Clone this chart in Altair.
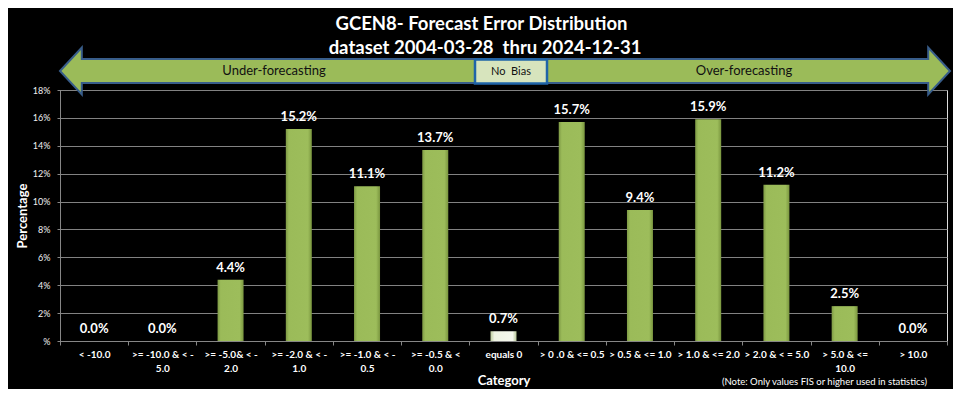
import altair as alt
import pandas as pd

categories = ["< -10.0", ">= -10.0 & < -\n5.0", ">= -5.0& < -\n2.0", ">= -2.0 & < -\n1.0",
              ">= -1.0 & < -\n0.5", ">= -0.5 & <\n0.0", "equals 0", "> 0 .0 & <= 0.5",
              "> 0.5 & <= 1.0", "> 1.0 & <= 2.0", "> 2.0 & < = 5.0", "> 5.0 & <=\n10.0", "> 10.0"]
values = [0.0, 0.0, 4.4, 15.2, 11.1, 13.7, 0.7, 15.7, 9.4, 15.9, 11.2, 2.5, 0.0]
y_ticks = [0, 2, 4, 6, 8, 10, 12, 14, 16, 18]

df = pd.DataFrame({"cat": categories, "value": values})

FONT = "Lato"
W, H = 887, 251

x_enc = alt.X("cat:N", sort=categories,
              scale=alt.Scale(paddingInner=0, paddingOuter=0),
              axis=alt.Axis(title="Category", labelExpr="split(datum.label, '\\n')",
                            labelAngle=0, labelFontWeight="bold", labelFontSize=10,
                            labelColor="#ffffff", labelPadding=4, labelLineHeight=14,
                            tickBand="extent", tickSize=4, tickColor="#868686",
                            domainColor="#868686", titleFontSize=13, titleFontWeight="bold",
                            titleColor="#ffffff", titleY=33, titleBaseline="top",
                            grid=False))
y_enc = alt.Y("value:Q", scale=alt.Scale(domain=[0, 18], nice=False),
              axis=alt.Axis(title="Percentage", values=y_ticks,
                            labelExpr="datum.value == 0 ? '%' : datum.value + '%'",
                            labelFontSize=9, labelColor="#f2f2f2", labelPadding=7,
                            tickSize=3, tickColor="#868686", domainColor="#868686",
                            gridColor="#828282", gridWidth=1,
                            titleFontSize=13, titleFontWeight="bold", titleColor="#ffffff",
                            titleX=-38, titleBaseline="middle"))

green_grad = {"gradient": "linear", "x1": 0, "x2": 1, "y1": 0, "y2": 0,
              "stops": [{"offset": 0, "color": "#7e9a45"}, {"offset": 0.12, "color": "#9bbb59"},
                        {"offset": 0.85, "color": "#9dbd5b"}, {"offset": 1, "color": "#7a963f"}]}
light_grad = {"gradient": "linear", "x1": 0, "x2": 1, "y1": 0, "y2": 0,
              "stops": [{"offset": 0, "color": "#bccb9c"}, {"offset": 0.15, "color": "#eef3e2"},
                        {"offset": 0.85, "color": "#f4f7ec"}, {"offset": 1, "color": "#b6c697"}]}

base = alt.Chart(df)
bars = base.transform_filter("datum.cat != 'equals 0'").mark_bar(
    size=26, color=green_grad).encode(x=x_enc, y=y_enc)
bars0 = base.transform_filter("datum.cat == 'equals 0'").mark_bar(
    size=26, color=light_grad).encode(x=x_enc, y=y_enc)
labels = base.transform_calculate(lbl="format(datum.value, '.1f') + '%'").mark_text(
    font=FONT, fontSize=13, fontWeight="bold", color="#ffffff", baseline="alphabetic", dy=-8
).encode(x=x_enc, y=y_enc, text="lbl:N")

one = alt.Data(values=[{}])
arrow_path = ("M -1 0 L -0.951 -0.0528 L -0.951 -0.027 L 0.951 -0.027 L 0.951 -0.0528 "
              "L 1 0 L 0.951 0.0528 L 0.951 0.027 L -0.951 0.027 L -0.951 0.0528 Z")
arrow = alt.Chart(one).mark_point(shape=arrow_path, size=890 * 890, filled=True,
                                  fill="#9bbb59", stroke="#385d8a", strokeWidth=2,
                                  opacity=1).encode(x=alt.value(445), y=alt.value(-19))
box = alt.Chart(one).mark_rect(fill="#d7e4bd", stroke="#1f64a8", strokeWidth=2.5).encode(
    x=alt.value(415), x2=alt.value(487), y=alt.value(-30.5), y2=alt.value(-6.5))


def txt(s, x, y, size, weight="normal", color="#ffffff", align="center"):
    return alt.Chart(one).mark_text(text=s, font=FONT, fontSize=size, fontWeight=weight,
                                    color=color, align=align, baseline="middle").encode(
        x=alt.value(x), y=alt.value(y))


title1 = txt("GCEN8- Forecast Error Distribution", 421.5, -66, 18.5, "bold")
title2 = txt("dataset 2004-03-28\u00a0 thru 2024-12-31", 425, -42, 18.5, "bold")
under = txt("Under-forecasting", 214, -19.5, 13, color="#111111")
over = txt("Over-forecasting", 684, -19.5, 13, color="#111111")
nobias = txt("No\u00a0 Bias", 451, -18.5, 11, color="#111111")
note = txt("(Note: Only values FIS or higher used in statistics)", 764.5, 292, 9.5, color="#ffffff")

chart = alt.layer(bars, bars0, labels, arrow, box, title1, title2, under, over, nobias, note).properties(
    width=W, height=H,
    autosize=alt.AutoSizeParams(type="none"),
    padding={"left": 52, "top": 82, "right": 6, "bottom": 48},
    background="#000000",
).configure_view(fill="#404040", stroke=None).configure(font=FONT)

chart.save("out.html", embed_options={"renderer": "svg", "actions": False})
